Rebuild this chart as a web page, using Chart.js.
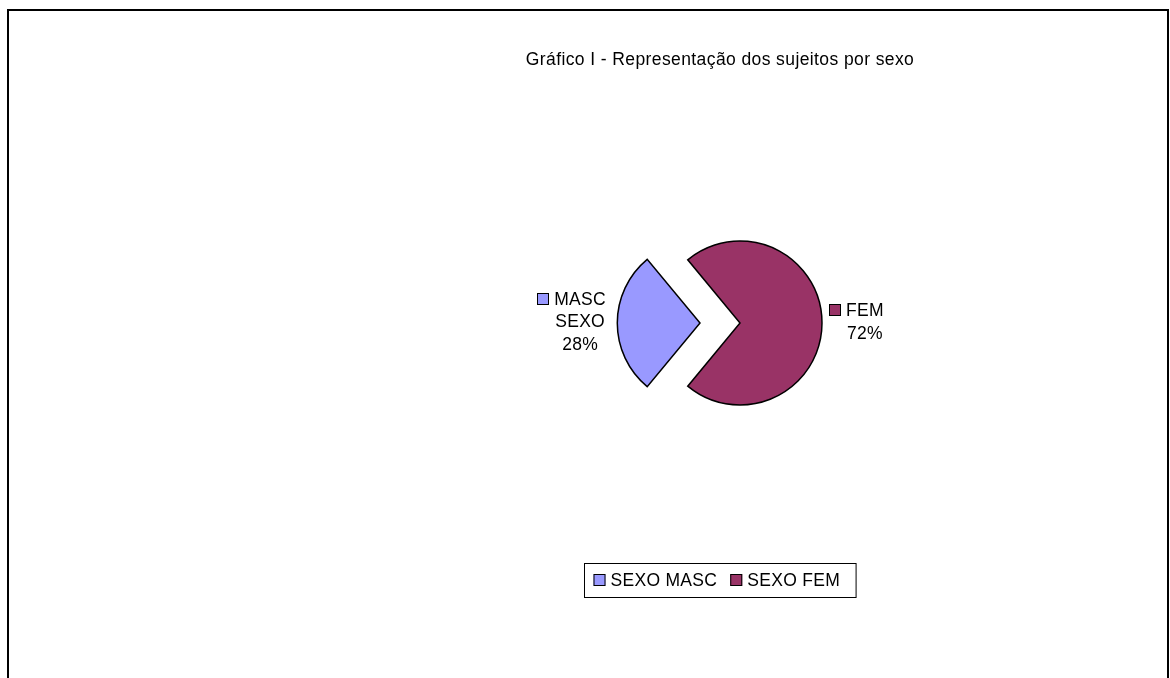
<!DOCTYPE html>
<html>
<head>
<meta charset="utf-8">
<script src="https://cdn.jsdelivr.net/npm/chart.js@4.4.0/dist/chart.umd.min.js"></script>
<style>
  html, body { margin: 0; padding: 0; background: #fff; overflow: hidden; }
  #frame { position: absolute; left: 7px; top: 9px; width: 1162px; height: 700px;
           box-sizing: border-box; border: 2px solid #000; border-bottom: none; }
  #wrap { position: absolute; left: 0; top: 0; width: 1170px; height: 678px; }
</style>
</head>
<body>
<div id="frame"></div>
<div id="wrap"><canvas id="chart" width="1170" height="678"></canvas></div>
<script>
// Data
const chartTitle = 'Gráfico I - Representação dos sujeitos por sexo';
const categories = ['SEXO MASC', 'SEXO FEM'];
const sliceNames = [['MASC', 'SEXO'], ['FEM']];
const values = [28, 72];
const colors = ['#9999FF', '#993366'];

const FONT = '17.5px "Liberation Sans", Arial, sans-serif';
const total = values.reduce((a, b) => a + b, 0);

// keep the small slice centred on the left side
const rotation = 270 - (values[0] / total * 360) / 2;

// Title + legend box drawn on the canvas
const titleLegendPlugin = {
    id: 'titleLegend',
    afterDraw(chart, args, opts) {
        const ctx = chart.ctx;
        ctx.save();
        ctx.font = FONT;
        ctx.fillStyle = '#000';
        ctx.textBaseline = 'middle';
        ctx.textAlign = 'center';
        ctx.letterSpacing = '0.4px';
        ctx.fillText(chartTitle, opts.centerX, opts.titleY);

        // legend
        ctx.letterSpacing = '0.3px';
        const sq = 12, gapSq = 5, gapItem = 13;
        const widths = categories.map(c => ctx.measureText(c).width);
        let inner = 0;
        widths.forEach((w, i) => { inner += sq + gapSq + w + (i < widths.length - 1 ? gapItem : 0); });
        const boxW = inner + 9 + 16;
        const boxH = 34;
        const bx = Math.round(opts.centerX - boxW / 2) + 0.5;
        const by = opts.legendY - boxH / 2 + 0.5;
        ctx.strokeStyle = '#000';
        ctx.lineWidth = 1;
        ctx.strokeRect(bx, by, boxW, boxH);
        let x = bx + 9;
        ctx.textAlign = 'left';
        categories.forEach((c, i) => {
            ctx.fillStyle = colors[i];
            ctx.fillRect(x, opts.legendY - sq / 2, sq, sq);
            ctx.strokeRect(x + 0.5, opts.legendY - sq / 2 + 0.5, sq - 1, sq - 1);
            ctx.fillStyle = '#000';
            ctx.fillText(c, x + sq + gapSq, opts.legendY + 1);
            x += sq + gapSq + widths[i] + gapItem;
        });
        ctx.restore();
    }
};

// Slice data labels (name + percent, with a small colour key)
const sliceLabelPlugin = {
    id: 'sliceLabels',
    afterDatasetsDraw(chart, args, opts) {
        const ctx = chart.ctx;
        const meta = chart.getDatasetMeta(0);
        const lineH = 22.5, sq = 12, gapSq = 5;
        ctx.save();
        ctx.font = FONT;
        ctx.letterSpacing = '0.3px';
        ctx.textBaseline = 'middle';
        ctx.strokeStyle = '#000';
        ctx.lineWidth = 1;
        meta.data.forEach((arc, i) => {
            const p = arc.getProps(['x', 'y', 'startAngle', 'endAngle', 'outerRadius'], true);
            const mid = (p.startAngle + p.endAngle) / 2;
            const shift = (arc.options.offset || 0) / 4;
            const cx = p.x + Math.cos(mid) * shift;
            const cy = p.y + Math.sin(mid) * shift;
            const r = p.outerRadius + opts.gap[i];
            const ax = cx + Math.cos(mid) * r;
            const ay = cy + Math.sin(mid) * r;

            const pct = Math.round(values[i] / total * 100) + '%';
            const lines = [...sliceNames[i], pct];
            const textW = Math.max(...lines.map(l => ctx.measureText(l).width));
            // text block sits next to the pie; key square hangs left of the first line
            const textLeft = Math.cos(mid) < 0 ? ax - textW : ax + sq + gapSq;
            const centerX = textLeft + textW / 2;
            const top = ay - lines.length * lineH / 2;
            lines.forEach((line, k) => {
                const y = top + lineH * (k + 0.5) - 1.5;
                const w = ctx.measureText(line).width;
                if (k === 0) {
                    const sx = Math.round(centerX - w / 2 - gapSq - sq);
                    ctx.fillStyle = colors[i];
                    ctx.fillRect(sx, Math.round(y - sq / 2), sq, sq);
                    ctx.strokeRect(sx + 0.5, Math.round(y - sq / 2) + 0.5, sq - 1, sq - 1);
                }
                ctx.fillStyle = '#000';
                ctx.textAlign = 'center';
                ctx.fillText(line, centerX, y + 1);
            });
        });
        ctx.restore();
    }
};

const pieChart = new Chart(document.getElementById('chart').getContext('2d'), {
    type: 'pie',
    data: {
        labels: categories,
        datasets: [{
            data: values,
            backgroundColor: colors,
            borderColor: '#000',
            borderWidth: 1.5,
            borderJoinStyle: 'miter',
            offset: [160, 0] // explode the small slice
        }]
    },
    options: {
        responsive: false,
        animation: false,
        devicePixelRatio: 1,
        events: [],
        rotation: rotation,
        radius: 82,
        layout: { padding: { left: 540, right: 230, top: 123, bottom: 155 } },
        plugins: {
            legend: { display: false },
            title: { display: false },
            tooltip: { enabled: false },
            titleLegend: { centerX: 720, titleY: 60, legendY: 580 },
            sliceLabels: { gap: [12, 7] }
        }
    },
    plugins: [sliceLabelPlugin, titleLegendPlugin]
});
</script>
</body>
</html>
